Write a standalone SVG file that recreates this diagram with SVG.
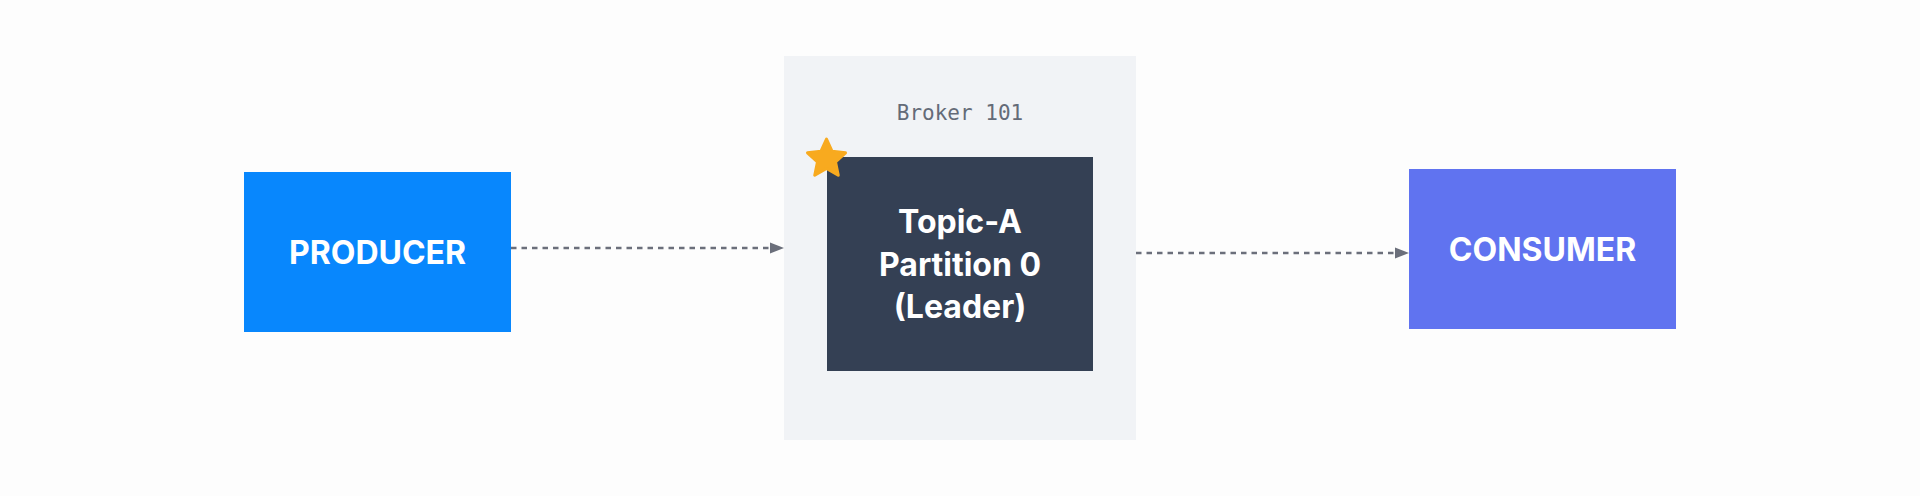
<svg xmlns="http://www.w3.org/2000/svg" width="1920" height="496" viewBox="0 0 1920 496">
  <style>
    .label { font-family: Inter, "Noto Sans", "Liberation Sans", sans-serif; font-weight: 700; font-size: 32px; fill: #ffffff; text-anchor: middle; }
    .mono { font-family: "DejaVu Sans Mono", "Liberation Mono", monospace; font-size: 21px; fill: #646b78; text-anchor: middle; }
    .conn { stroke: #6b6f7b; stroke-width: 2.5; stroke-dasharray: 5.5 5; fill: none; }
  </style>
  <defs>
    <marker id="arrow" markerUnits="userSpaceOnUse" markerWidth="16" markerHeight="14" refX="14" refY="7" orient="auto">
      <path d="M0,1.5 L14,7 L0,12.5 Z" fill="#6b6f7b"/>
    </marker>
  </defs>
  <rect x="0" y="0" width="1920" height="496" fill="#fdfdfd"/>

  <g id="broker">
    <rect x="784" y="56" width="352" height="384" fill="#f1f3f6"/>
    <text class="mono" x="960" y="120">Broker 101</text>
  </g>

  <g id="topic-partition">
    <rect x="827" y="157" width="266" height="214" fill="#344054"/>
    <text class="label" x="960" y="233">Topic-A</text>
    <text class="label" x="960" y="275.5">Partition 0</text>
    <text class="label" x="960" y="318">(Leader)</text>
  </g>

  <g id="leader-star">
    <polygon fill="#f8aa1f" stroke="#f8aa1f" stroke-width="3" stroke-linejoin="round" points="826.5,139 832.08,151.31 845.52,152.82 835.54,161.94 838.26,175.18 826.5,168.5 814.74,175.18 817.46,161.94 807.48,152.82 820.92,151.31"/>
  </g>

  <g id="producer">
    <rect x="244" y="172" width="267" height="160" fill="#0887fd"/>
    <text class="label" x="377.5" y="264">PRODUCER</text>
  </g>

  <g id="consumer">
    <rect x="1409" y="169" width="267" height="160" fill="#6073f0"/>
    <text class="label" x="1542.5" y="261">CONSUMER</text>
  </g>

  <g id="connectors">
    <line class="conn" x1="511" y1="248" x2="784" y2="248" marker-end="url(#arrow)"/>
    <line class="conn" x1="1136" y1="253" x2="1409" y2="253" marker-end="url(#arrow)"/>
  </g>
</svg>
